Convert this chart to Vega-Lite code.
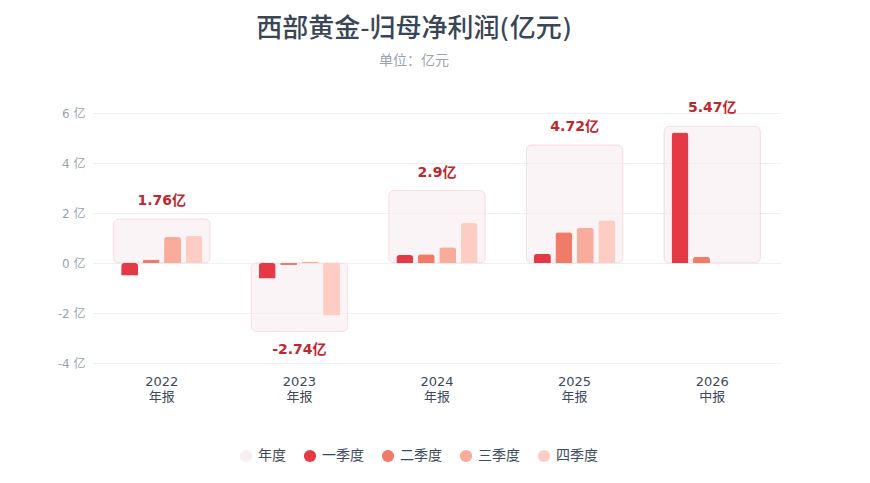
{
  "$schema": "https://vega.github.io/schema/vega-lite/v6.json",
  "autosize": "none",
  "width": 688,
  "height": 250,
  "padding": {"left": 93, "top": 113, "right": 89, "bottom": 120},
  "background": "white",
  "config": {
    "font": "DejaVu Sans, Noto Sans CJK SC",
    "view": {"stroke": null}
  },
  "title": {
    "text": "西部黄金-归母净利润(亿元)",
    "subtitle": "单位：亿元",
    "anchor": "middle",
    "frame": "group",
    "dx": -23,
    "offset": 33,
    "fontSize": 26,
    "fontWeight": 500,
    "color": "#3a4556",
    "subtitleColor": "#9aa3b2",
    "subtitleFontSize": 14,
    "subtitlePadding": 12
  },
  "datasets": {
    "annual": [
      {"period": "2022年报", "series": "年度", "total": 1.76, "label": "1.76亿"},
      {"period": "2023年报", "series": "年度", "total": -2.74, "label": "-2.74亿"},
      {"period": "2024年报", "series": "年度", "total": 2.9, "label": "2.9亿"},
      {"period": "2025年报", "series": "年度", "total": 4.72, "label": "4.72亿"},
      {"period": "2026中报", "series": "年度", "total": 5.47, "label": "5.47亿"}
    ],
    "quarters": [
      {"period": "2022年报", "series": "一季度", "value": -0.5},
      {"period": "2022年报", "series": "二季度", "value": 0.12},
      {"period": "2022年报", "series": "三季度", "value": 1.05},
      {"period": "2022年报", "series": "四季度", "value": 1.09},
      {"period": "2023年报", "series": "一季度", "value": -0.62},
      {"period": "2023年报", "series": "二季度", "value": -0.08},
      {"period": "2023年报", "series": "三季度", "value": 0.06},
      {"period": "2023年报", "series": "四季度", "value": -2.1},
      {"period": "2024年报", "series": "一季度", "value": 0.32},
      {"period": "2024年报", "series": "二季度", "value": 0.35},
      {"period": "2024年报", "series": "三季度", "value": 0.63},
      {"period": "2024年报", "series": "四季度", "value": 1.6},
      {"period": "2025年报", "series": "一季度", "value": 0.37},
      {"period": "2025年报", "series": "二季度", "value": 1.23},
      {"period": "2025年报", "series": "三季度", "value": 1.41},
      {"period": "2025年报", "series": "四季度", "value": 1.71},
      {"period": "2026中报", "series": "一季度", "value": 5.22},
      {"period": "2026中报", "series": "二季度", "value": 0.25}
    ]
  },
  "encoding": {
    "x": {
      "field": "period",
      "type": "nominal",
      "scale": {
        "domain": ["2022年报", "2023年报", "2024年报", "2025年报", "2026中报"],
        "paddingInner": 0.3,
        "paddingOuter": 0.15
      },
      "axis": {
        "title": null,
        "domain": false,
        "ticks": false,
        "labelAngle": 0,
        "labelPadding": 12,
        "labelFontSize": 13,
        "labelColor": "#3d4a5c",
        "labelLineHeight": 15,
        "labelExpr": "[substring(datum.value, 0, 4), substring(datum.value, 4)]"
      }
    }
  },
  "layer": [
    {
      "data": {"name": "annual"},
      "mark": {
        "type": "bar",
        "cornerRadius": 5,
        "fillOpacity": 0.6,
        "stroke": "#f7dfe2",
        "strokeWidth": 1
      },
      "encoding": {
        "y": {
          "field": "total",
          "type": "quantitative",
          "scale": {"domain": [-4, 6], "nice": false},
          "axis": {
            "title": null,
            "values": [-4, -2, 0, 2, 4, 6],
            "domain": false,
            "ticks": false,
            "labelPadding": 8,
            "labelFontSize": 12,
            "labelColor": "#9aa3b2",
            "gridColor": "#eef0f4",
            "labelExpr": "datum.value + ' 亿'"
          }
        },
        "color": {
          "field": "series",
          "type": "nominal",
          "scale": {
            "domain": ["年度", "一季度", "二季度", "三季度", "四季度"],
            "range": ["#f9edf0", "#e63946", "#f07b68", "#f9ab9c", "#fdcdc4"]
          },
          "legend": {
            "title": null,
            "orient": "none",
            "direction": "horizontal",
            "legendX": 146,
            "legendY": 336,
            "symbolType": "circle",
            "symbolSize": 150,
            "symbolStrokeWidth": 0,
            "symbolOpacity": 1,
            "labelFontSize": 14,
            "labelColor": "#3d4a5c",
            "labelOffset": 5,
            "columnPadding": 17
          }
        }
      }
    },
    {
      "data": {"name": "quarters"},
      "mark": {"type": "bar", "cornerRadiusEnd": 3},
      "encoding": {
        "xOffset": {
          "field": "series",
          "type": "nominal",
          "scale": {
            "domain": ["一季度", "二季度", "三季度", "四季度"],
            "paddingInner": 0.21,
            "paddingOuter": 0.35
          }
        },
        "y": {"field": "value", "type": "quantitative"},
        "color": {"field": "series", "type": "nominal"}
      }
    },
    {
      "data": {"name": "annual"},
      "transform": [{"filter": "datum.total >= 0"}],
      "mark": {
        "type": "text",
        "baseline": "bottom",
        "dy": -11,
        "fontSize": 14,
        "fontWeight": "bold",
        "color": "#c0262e"
      },
      "encoding": {
        "y": {"field": "total", "type": "quantitative"},
        "text": {"field": "label"}
      }
    },
    {
      "data": {"name": "annual"},
      "transform": [{"filter": "datum.total < 0"}],
      "mark": {
        "type": "text",
        "baseline": "top",
        "dy": 11,
        "fontSize": 14,
        "fontWeight": "bold",
        "color": "#c0262e"
      },
      "encoding": {
        "y": {"field": "total", "type": "quantitative"},
        "text": {"field": "label"}
      }
    }
  ]
}
